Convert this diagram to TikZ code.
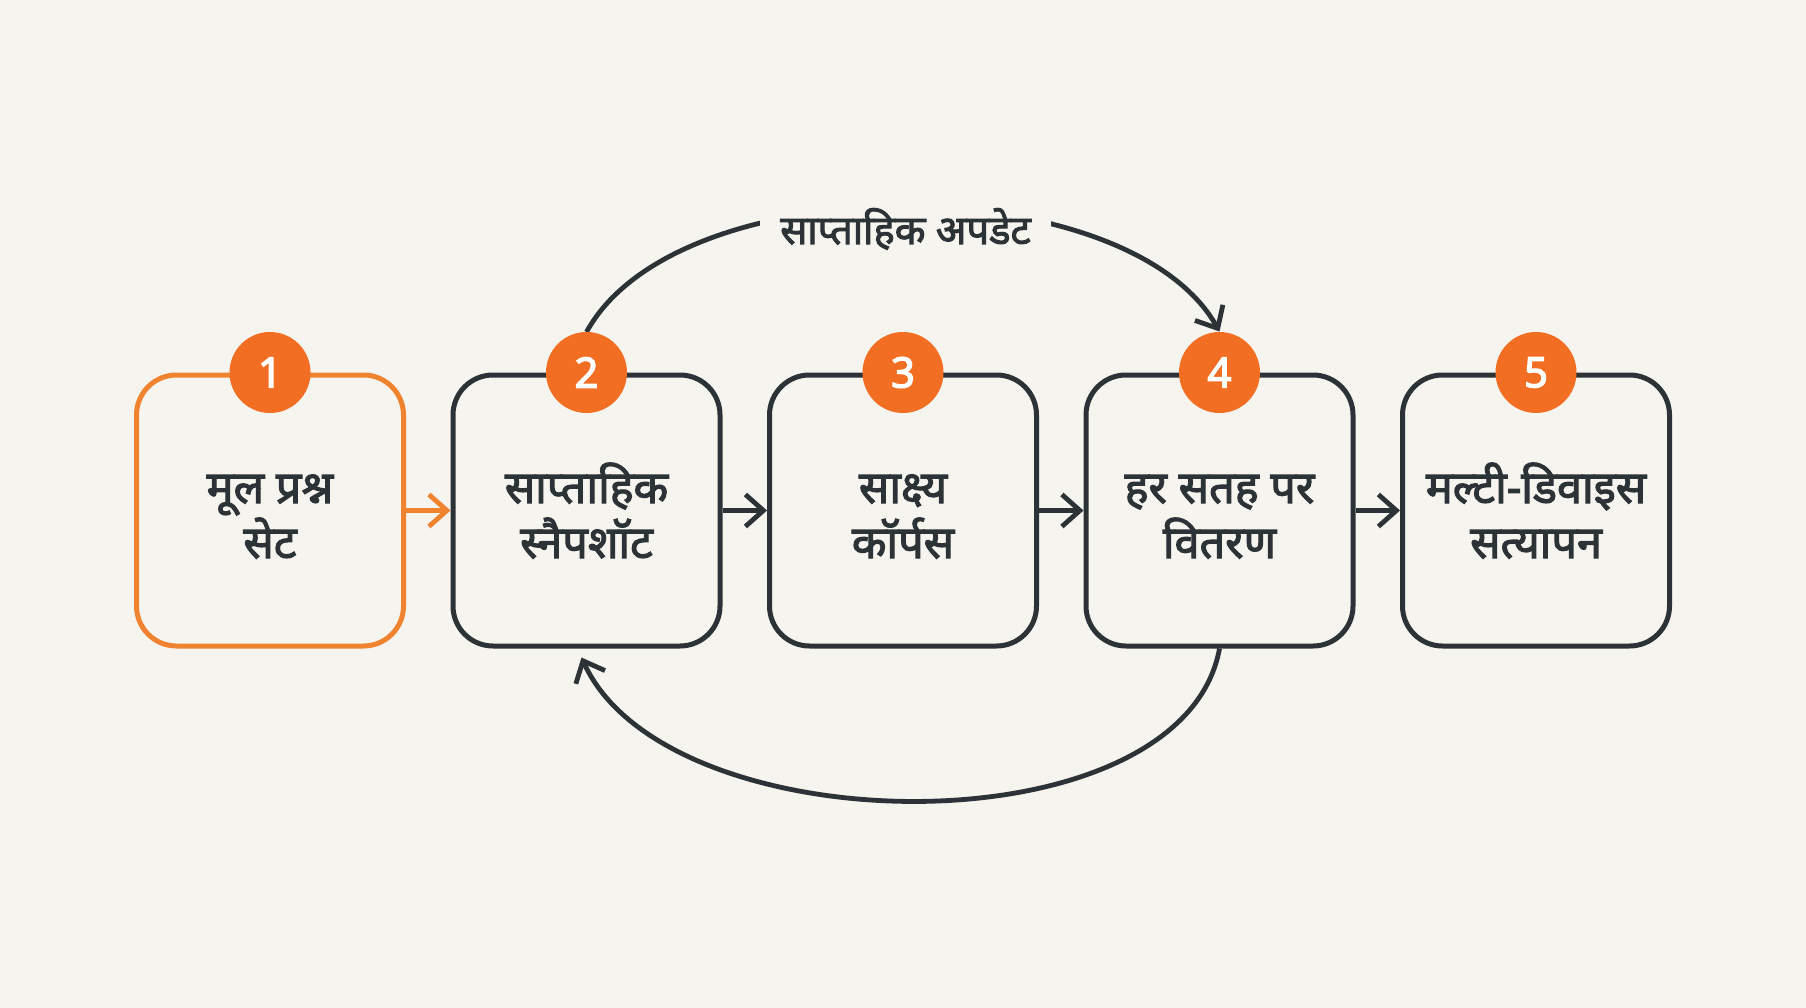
\documentclass[tikz,border=0pt]{standalone}
\usepackage{fontspec}
\newfontfamily\dev[Script=Devanagari,FakeBold=2.5]{Noto Sans}
\newfontfamily\numfont[FakeBold=3]{Noto Sans}
\usetikzlibrary{arrows.meta}
\definecolor{bg}{HTML}{F5F4EF}
\definecolor{ink}{HTML}{2C3336}
\definecolor{orng}{HTML}{F26E22}
\definecolor{orngline}{HTML}{F0832F}
\newcommand\lst{\vrule width 0pt height 45pt depth 5pt}
\newcommand\nolskip{\lineskiplimit=-100pt\relax}
\begin{document}
\begin{tikzpicture}[x=1pt,y=-1pt,
  stepbox/.style={draw=ink, line width=5pt, rounded corners=40pt, minimum width=267pt, minimum height=271pt, align=center, font={\dev\fontsize{45}{55}\selectfont\nolskip}, text=ink, fill=bg},
  badge/.style={circle, fill=orng, minimum size=81pt, inner sep=0pt, text=white, font=\numfont\fontsize{42}{42}\selectfont},
  flow/.style={draw=ink, line width=4.8pt, -{Straight Barb[length=18pt,width=32pt]}},
  lbl/.style={fill=bg, inner xsep=20pt, inner ysep=14pt, text=ink, font=\dev\fontsize{40}{46}\selectfont}
]
\fill[bg] (0,0) rectangle (1806,1008);
\useasboundingbox (0,0) rectangle (1806,1008);

\node[stepbox, draw=orngline] (b1) at (270,510.5) {\lst मूल प्रश्न\\\lst सेट};
\node[stepbox] (b2) at (586.5,510.5) {\lst साप्ताहिक\\\lst स्नैपशॉट};
\node[stepbox] (b3) at (903,510.5) {\lst साक्ष्य\\\lst कॉर्पस};
\node[stepbox] (b4) at (1219.5,510.5) {\lst हर सतह पर\\\lst वितरण};
\node[stepbox] (b5) at (1536,510.5) {\lst मल्टी-डिवाइस\\\lst सत्यापन};

\draw[flow, draw=orngline] (b1.east) -- (b2.west);
\draw[flow] (b2.east) -- (b3.west);
\draw[flow] (b3.east) -- (b4.west);
\draw[flow] (b4.east) -- (b5.west);

\coordinate (t2) at ([yshift=40.5pt]b2.north);
\coordinate (t4) at ([yshift=41pt]b4.north);
\draw[flow] (t2) .. controls +(92,-168) and +(-92,-164) .. (t4);
\node[lbl, anchor=base] (upd) at (905.5,244) {साप्ताहिक अपडेट};

\draw[flow] (b4.south) .. controls +(-37,204) and +(86,190) .. ([xshift=-5pt,yshift=-9pt]b2.south);

\node[badge] (n1) at (b1.north) {1};
\node[badge] (n2) at (b2.north) {2};
\node[badge] (n3) at (b3.north) {3};
\node[badge] (n4) at (b4.north) {4};
\node[badge] (n5) at (b5.north) {5};
\end{tikzpicture}
\end{document}
